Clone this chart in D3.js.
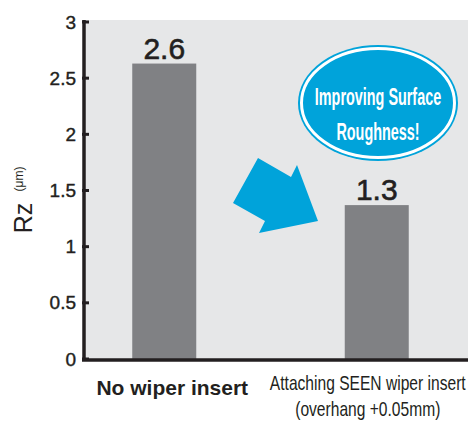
<!DOCTYPE html>
<html>
<head>
<meta charset="utf-8">
<script src="https://cdn.jsdelivr.net/npm/d3@7"></script>
<style>
  body { margin: 0; background: #fff; }
  text { font-family: "Liberation Sans", Arial, sans-serif; fill: #231f20; }
</style>
</head>
<body>
<svg width="468" height="425"></svg>
<script>
// chart data
const categories = ["No wiper insert", "Attaching SEEN wiper insert"];
const subLabels = ["", "(overhang +0.05mm)"];
const values = [2.63, 1.37];
const valueLabels = ["2.6", "1.3"];
const yTicks = [0, 0.5, 1, 1.5, 2, 2.5, 3];

const svg = d3.select("svg");

// scales
const y = d3.scaleLinear().domain([0, 3]).range([359, 22]);
const x = d3.scaleBand().domain(categories).range([58, 483]).paddingInner(0.4).paddingOuter(0.2);

// plot background
svg.append("rect")
  .attr("x", 84).attr("y", 20)
  .attr("width", 384).attr("height", 340)
  .attr("fill", "#e6e7e8");

// bars
svg.selectAll("rect.bar")
  .data(values)
  .enter().append("rect")
  .classed("bar", true)
  .attr("x", (d, i) => x(categories[i]) + x.bandwidth() / 2 - 32)
  .attr("width", 64)
  .attr("y", d => y(d))
  .attr("height", d => y(0) - y(d))
  .attr("fill", "#808184");

// value labels
svg.selectAll("text.val")
  .data(values)
  .enter().append("text")
  .classed("val", true)
  .attr("x", (d, i) => x(categories[i]) + x.bandwidth() / 2)
  .attr("y", d => y(d) - 5)
  .attr("text-anchor", "middle")
  .style("font-size", "30px")
  .style("stroke", "#231f20").style("stroke-width", 0.6)
  .text((d, i) => valueLabels[i]);

// y axis
const yAxis = d3.axisLeft(y).tickValues(yTicks).tickSize(0).tickPadding(8)
  .tickFormat(d3.format("~g"));
const ga = svg.append("g").attr("transform", "translate(84,0)").call(yAxis);
ga.select(".domain").remove();
ga.selectAll("text").style("font-size", "19px").attr("fill", "#231f20")
  .style("stroke", "#231f20").style("stroke-width", 0.4)
  .style("font-family", "'Liberation Sans', Arial, sans-serif");
// tick stubs pointing right
svg.selectAll("line.tick")
  .data(yTicks)
  .enter().append("line")
  .attr("x1", 82).attr("x2", 89)
  .attr("y1", d => y(d)).attr("y2", d => y(d))
  .attr("stroke", "#231f20").attr("stroke-width", 3);

// axis lines
svg.append("line").attr("x1", 84).attr("x2", 84).attr("y1", 20).attr("y2", 361)
  .attr("stroke", "#231f20").attr("stroke-width", 3.5);
svg.append("line").attr("x1", 82).attr("x2", 468).attr("y1", 360).attr("y2", 360)
  .attr("stroke", "#231f20").attr("stroke-width", 3.5);

// y title
svg.append("text")
  .attr("transform", "translate(32,218) rotate(-90)")
  .attr("text-anchor", "middle")
  .style("font-size", "25px").text("Rz");
svg.append("text")
  .attr("transform", "translate(23,179) rotate(-90)")
  .attr("text-anchor", "middle")
  .style("font-size", "12px").text("(μm)");

// x labels
svg.append("text")
  .attr("x", x(categories[0]) + x.bandwidth() / 2 + 8).attr("y", 395)
  .attr("text-anchor", "middle")
  .style("font-size", "21px").style("font-weight", "bold")
  .text(categories[0]);
const cx2 = x(categories[1]) + x.bandwidth() / 2 - 9;
const lab2 = svg.append("g").attr("transform", `translate(${cx2},0) scale(0.78,1)`);
lab2.append("text").attr("x", 0).attr("y", 390).attr("text-anchor", "middle")
  .style("font-size", "20px").text(categories[1]);
lab2.append("text").attr("x", 0).attr("y", 416).attr("text-anchor", "middle")
  .style("font-size", "20px").text(subLabels[1]);

// arrow
const arrow = [[233, 203], [258, 158], [291, 177], [297, 165], [318, 221], [259, 233], [265, 221]];
svg.append("path")
  .attr("d", d3.line()(arrow) + "Z")
  .attr("fill", "#00a3da");

// callout ellipse
svg.append("ellipse").attr("cx", 378).attr("cy", 103).attr("rx", 80).attr("ry", 58)
  .attr("fill", "#00a3da");
svg.append("ellipse").attr("cx", 378).attr("cy", 103).attr("rx", 76.5).attr("ry", 54.5)
  .attr("fill", "#00a3da").attr("stroke", "#fff").attr("stroke-width", 3);
const cg = svg.append("g").attr("transform", "translate(378,0) scale(0.6,1)");
cg.append("text").attr("y", 105).attr("text-anchor", "middle")
  .style("font-size", "24px").style("font-weight", "bold").style("fill", "#fff")
  .text("Improving Surface");
cg.append("text").attr("y", 140).attr("text-anchor", "middle")
  .style("font-size", "24px").style("font-weight", "bold").style("fill", "#fff")
  .text("Roughness!");
</script>
</body>
</html>
